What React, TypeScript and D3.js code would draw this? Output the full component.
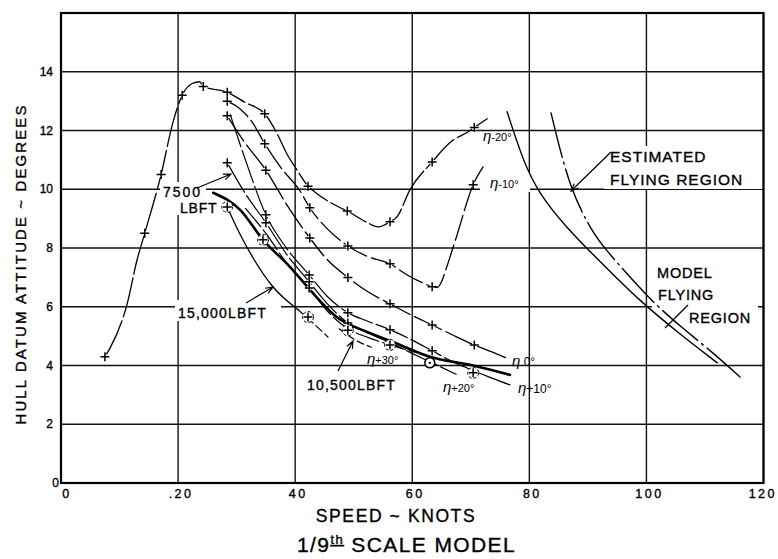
import React from 'react';
import * as d3 from 'd3';

const W = 778;
const H = 559;

// axes
const xGrid = [0, 20, 40, 60, 80, 100, 120];
const xTickLabels = ['0', '.20', '40', '60', '80', '100', '120'];
const yGrid = [0, 2, 4, 6, 8, 10, 12, 14, 16];
const yTickValues = [0, 2, 4, 6, 8, 10, 12, 14];
const yTickLabels = ['0', '2', '4', '6', '8', '10', '12', '14'];

// eta -20 deg (incl. low-speed hump)
const etaM20Speed = [7.5, 8.4, 11.3, 13.0, 14.3, 17.1, 19.1, 20.7, 22.4, 23.7, 24.3, 28.4, 31.5, 34.8, 36.9, 38.6, 40.3, 42.2, 43.4, 47.7, 48.9, 52, 54.2, 56.2, 57.4, 59.6, 63.4, 66.5, 69.9, 70.6, 72.8];
const etaM20Att = [4.3, 4.6, 6.1, 7.6, 8.5, 10.5, 12.26, 13.2, 13.6, 13.66, 13.5, 13.3, 12.95, 12.57, 11.9, 11.2, 10.66, 10.1, 9.9, 9.37, 9.26, 8.9, 8.72, 8.89, 9.06, 9.98, 10.93, 11.6, 12.0, 12.1, 12.4];
const etaM20MarkSpeed = [7.5, 14.3, 17.1, 20.7, 24.3, 28.4, 34.8, 42.2, 48.9, 56.2, 63.4, 70.6];
const etaM20MarkAtt = [4.3, 8.5, 10.5, 13.2, 13.5, 13.3, 12.57, 10.1, 9.26, 8.89, 10.93, 12.1];

// eta -10 deg
const etaM10Speed = [28.4, 30.5, 32.6, 34.8, 37.5, 40.8, 42.5, 45.5, 49.0, 52.5, 56.2, 59, 61.8, 63.4, 64.3, 65.0, 65.8, 67.5, 70.4, 72.1];
const etaM10Att = [13.0, 12.75, 12.3, 11.55, 10.75, 9.95, 9.37, 8.65, 8.07, 7.7, 7.46, 7.1, 6.81, 6.68, 6.66, 6.85, 7.3, 8.35, 10.15, 10.76];
const etaM10MarkSpeed = [28.4, 34.8, 42.5, 49.0, 56.2, 63.4, 70.4];
const etaM10MarkAtt = [13.0, 11.55, 9.37, 8.07, 7.46, 6.68, 10.15];

// eta 0 deg
const eta0Speed = [28.4, 31, 35, 38.8, 42.5, 45.5, 49.0, 52.5, 56.2, 59.8, 63.4, 67, 70.6, 73.5, 76.5];
const eta0Att = [12.5, 11.7, 10.65, 9.4, 8.34, 7.6, 7.0, 6.5, 6.1, 5.72, 5.38, 5.03, 4.7, 4.47, 4.22];
const eta0MarkSpeed = [28.4, 35, 42.5, 49, 56.2, 63.4, 70.6];
const eta0MarkAtt = [12.5, 10.65, 8.34, 7.0, 6.1, 5.38, 4.7];

// eta +10 deg
const etaP10Speed = [28.9, 31.5, 35, 38.5, 42.4, 45.5, 49, 52.5, 56.2, 59.8, 63.4, 67, 70.5, 73.5, 76.7];
const etaP10Att = [12.55, 11.0, 9.13, 8.0, 7.08, 6.35, 5.8, 5.5, 5.22, 4.88, 4.5, 4.12, 3.82, 3.58, 3.34];
const etaP10MarkSpeed = [35, 42.4, 49, 56.2, 63.4];
const etaP10MarkAtt = [9.13, 7.08, 5.8, 5.22, 4.5];

// eta +20 deg
const etaP20Speed = [28.4, 31.5, 35, 38.5, 42.4, 45.5, 49, 52.5, 56.2, 59.8, 63.4, 67.5];
const etaP20Att = [10.9, 9.85, 8.86, 7.8, 6.85, 6.1, 5.45, 5.1, 4.78, 4.43, 4.09, 3.7];
const etaP20MarkSpeed = [28.4, 35, 42.4, 49];
const etaP20MarkAtt = [10.9, 8.86, 6.85, 5.45];

// eta +30 deg
const etaP30Speed = [31.5, 35, 38.5, 42.4, 45.5, 49, 52.5, 56.2, 60.5];
const etaP30Att = [9.35, 8.5, 7.5, 6.64, 5.85, 5.25, 4.95, 4.7, 4.45];
const etaP30MarkSpeed = [42.4];
const etaP30MarkAtt = [6.64];

// heavy line
const thickSpeed = [26.0, 30.6, 34.5, 39.1, 43.0, 47.1, 52.3, 56.7, 63.0, 70.4, 76.7];
const thickAtt = [9.88, 9.3, 8.28, 7.36, 6.47, 5.65, 5.14, 4.8, 4.3, 4.0, 3.68];

// 15,000 lb ft line
const lbft15000Speed = [28.4, 30.5, 33, 36.2, 40.5];
const lbft15000Att = [9.4, 8.5, 7.6, 6.68, 5.9];
const lbft15000TailSpeed = [40.5, 42.2, 45.6];
const lbft15000TailAtt = [5.9, 5.6, 4.97];

// 10,500 lb ft line
const lbft10500Speed = [47.5, 50, 53];
const lbft10500Att = [5.25, 4.9, 4.62];

// circled test points
const circledSpeed = [28.4, 34.5, 42.2, 49, 56.2, 70.4];
const circledAtt = [9.4, 8.28, 5.65, 5.2, 4.7, 3.75];
const ringSpeed = [63.0];
const ringAtt = [4.09];

// flying region boundaries
const modelFlyingSpeed = [76.2, 79.6, 83, 86.4, 90, 94.3, 98.9, 105.5, 112.1];
const modelFlyingAtt = [12.64, 10.56, 9.5, 8.7, 7.95, 7.1, 6.2, 5.1, 4.09];
const estFlyingSpeed = [83.7, 86.9, 90.9, 92.6, 100.6, 106, 111.4, 116.0];
const estFlyingAtt = [12.6, 9.98, 8.51, 8.04, 6.23, 5.3, 4.43, 3.61];

const FONT = "'Liberation Sans', Arial, sans-serif";

const x = d3.scaleLinear().domain([0, 120]).range([61, 763.5]);
const y = d3.scaleLinear().domain([0, 16]).range([483, 13]);

const zip = (a: number[], b: number[]) => a.map((v, i) => [v, b[i]] as [number, number]);
const lineGen = d3
  .line<[number, number]>()
  .x((d) => x(d[0]))
  .y((d) => y(d[1]))
  .curve(d3.curveMonotoneX);
const smoothGen = d3
  .line<[number, number]>()
  .x((d) => x(d[0]))
  .y((d) => y(d[1]))
  .curve(d3.curveBasis);

const curves = [
  { s: etaM20Speed, a: etaM20Att, dash: '40 4', w: 1.3, smooth: false },
  { s: etaM10Speed, a: etaM10Att, dash: '26 5', w: 1.3, smooth: false },
  { s: eta0Speed, a: eta0Att, dash: '30 5', w: 1.3, smooth: false },
  { s: etaP10Speed, a: etaP10Att, dash: '34 4', w: 1.2, smooth: false },
  { s: etaP20Speed, a: etaP20Att, dash: '34 4', w: 1.2, smooth: false },
  { s: etaP30Speed, a: etaP30Att, dash: '24 4', w: 1.2, smooth: false },
  { s: thickSpeed, a: thickAtt, dash: 'none', w: 2.6, smooth: false },
  { s: lbft15000Speed, a: lbft15000Att, dash: 'none', w: 1.3, smooth: false },
  { s: lbft15000TailSpeed, a: lbft15000TailAtt, dash: '8 4', w: 1.2, smooth: false },
  { s: lbft10500Speed, a: lbft10500Att, dash: '7 4', w: 1.2, smooth: false },
  { s: modelFlyingSpeed, a: modelFlyingAtt, dash: 'none', w: 1.4, smooth: true },
  { s: estFlyingSpeed, a: estFlyingAtt, dash: '46 5 2 5', w: 1.4, smooth: true },
];

const markers = [
  zip(etaM20MarkSpeed, etaM20MarkAtt),
  zip(etaM10MarkSpeed, etaM10MarkAtt),
  zip(eta0MarkSpeed, eta0MarkAtt),
  zip(etaP10MarkSpeed, etaP10MarkAtt),
  zip(etaP20MarkSpeed, etaP20MarkAtt),
  zip(etaP30MarkSpeed, etaP30MarkAtt),
].flat();

const circled = zip(circledSpeed, circledAtt);
const rings = zip(ringSpeed, ringAtt);

function arrow(x1: number, y1: number, x2: number, y2: number, size = 8) {
  const ang = Math.atan2(y2 - y1, x2 - x1);
  const a1 = ang - 0.38;
  const a2 = ang + 0.38;
  return `M${x1},${y1}L${x2},${y2}M${x2 - size * Math.cos(a1)},${y2 - size * Math.sin(a1)}L${x2},${y2}L${x2 - size * Math.cos(a2)},${y2 - size * Math.sin(a2)}`;
}

// label boxes that interrupt grid lines: [x, y, w, h]
const labelMasks = [
  [160, 182, 46, 33],
  [175, 300, 106, 21],
  [604, 146, 158, 43],
  [652, 264, 106, 63],
  [480, 172, 50, 20],
];

const Plus = ({ cx, cy }: { cx: number; cy: number }) => (
  <path d={`M${cx - 4.5},${cy}H${cx + 4.5}M${cx},${cy - 4.5}V${cy + 4.5}`} stroke="#000" strokeWidth={1.5} />
);

const T = { fill: '#000', stroke: '#000', strokeWidth: 0.35 };

export default function App() {
  return (
    <svg width={W} height={H} style={{ position: 'absolute', left: 0, top: 0, background: '#fff' }} fontFamily={FONT}>
      <rect x={0} y={0} width={W} height={H} fill="#fff" />
      {/* grid */}
      {xGrid.map((v) => (
        <line key={'gx' + v} x1={x(v)} x2={x(v)} y1={y(16)} y2={y(0)} stroke="#111" strokeWidth={1.4} />
      ))}
      {yGrid.map((v) => (
        <line key={'gy' + v} x1={x(0)} x2={x(120)} y1={y(v)} y2={y(v)} stroke="#111" strokeWidth={1.4} />
      ))}
      <rect x={x(0)} y={y(16)} width={x(120) - x(0)} height={y(0) - y(16)} fill="none" stroke="#000" strokeWidth={2.2} />
      {labelMasks.map((m, i) => (
        <rect key={'m' + i} x={m[0]} y={m[1]} width={m[2]} height={m[3]} fill="#fff" />
      ))}

      {/* tick labels */}
      {yTickValues.map((v, i) => (
        <text key={'yt' + v} x={v === 0 ? 59 : 53} y={y(v) + 4} fontSize={12} textAnchor="end" {...T}>
          {yTickLabels[i]}
        </text>
      ))}
      {xGrid.map((v, i) => (
        <text
          key={'xt' + v}
          x={i === 0 ? x(v) + 6 : i === xGrid.length - 1 ? W - 1 : x(v) + 3}
          y={498}
          fontSize={12.5}
          letterSpacing={2.5}
          textAnchor={i === xGrid.length - 1 ? 'end' : 'middle'}
          {...T}
        >
          {xTickLabels[i]}
        </text>
      ))}

      {/* axis titles */}
      <text transform="translate(26,264) rotate(-90)" fontSize={15} letterSpacing={2.1} textAnchor="middle" {...T}>
        HULL DATUM ATTITUDE ~ DEGREES
      </text>
      <text x={396} y={522} fontSize={17.5} letterSpacing={1.6} textAnchor="middle" {...T}>
        SPEED ~ KNOTS
      </text>
      <text x={297} y={552} fontSize={21} letterSpacing={1.4} {...T}>
        1/9
        <tspan dy={-8} fontSize={13} textDecoration="underline">th</tspan>
        <tspan dy={8}> SCALE  MODEL</tspan>
      </text>

      {/* curves */}
      {curves.map((c, i) => (
        <path
          key={'c' + i}
          d={(c.smooth ? smoothGen : lineGen)(zip(c.s, c.a)) || ''}
          fill="none"
          stroke="#000"
          strokeWidth={c.w}
          strokeDasharray={c.dash === 'none' ? undefined : c.dash}
          strokeLinecap="round"
        />
      ))}

      {/* marker halos and markers */}
      {markers.map((p, i) => (
        <circle key={'h' + i} cx={x(p[0])} cy={y(p[1])} r={2.6} fill="#fff" />
      ))}
      {markers.map((p, i) => (
        <Plus key={'p' + i} cx={x(p[0])} cy={y(p[1])} />
      ))}
      {circled.map((p, i) => (
        <g key={'cp' + i}>
          <circle cx={x(p[0])} cy={y(p[1])} r={5.5} fill="#fff" stroke="#000" strokeWidth={1} strokeDasharray="3 2" />
          <Plus cx={x(p[0])} cy={y(p[1])} />
        </g>
      ))}
      {rings.map((p, i) => (
        <g key={'r' + i}>
          <circle cx={x(p[0])} cy={y(p[1])} r={5} fill="#fff" stroke="#000" strokeWidth={1.5} />
          <circle cx={x(p[0])} cy={y(p[1])} r={1.2} fill="#000" />
        </g>
      ))}

      {/* annotations */}
      <g stroke="#000" strokeWidth={1.2} fill="none">
        <path d={arrow(197, 188, 231, 174)} />
        <path d={arrow(246, 303, 273, 287)} />
        <path d={arrow(338, 371, 353, 341)} />
        <path d={arrow(611, 152, 571, 191)} />
        <path d="M665,328L688,305" />
      </g>
      <g {...T}>
        <text x={163} y={197} fontSize={14} letterSpacing={2}>7500</text>
        <text x={180} y={213} fontSize={14} letterSpacing={0.8}>LBFT</text>
        <text x={178} y={318} fontSize={14} letterSpacing={1.2}>15,000LBFT</text>
        <text x={307} y={390} fontSize={14} letterSpacing={1.2}>10,500LBFT</text>
        <text x={610} y={162} fontSize={15.5} letterSpacing={1}>ESTIMATED</text>
        <text x={610} y={185} fontSize={15.5} letterSpacing={1}>FLYING REGION</text>
        <text x={657} y={278} fontSize={14.5} letterSpacing={0.8}>MODEL</text>
        <text x={658} y={300} fontSize={14.5} letterSpacing={0.8}>FLYING</text>
        <text x={689} y={323} fontSize={14.5} letterSpacing={0.8}>REGION</text>
      </g>
      <g fill="#000">
        <text x={483} y={141}>
          <tspan fontSize={15} fontStyle="italic">η</tspan>
          <tspan fontSize={11}>-20°</tspan>
        </text>
        <text x={490} y={188}>
          <tspan fontSize={15} fontStyle="italic">η</tspan>
          <tspan fontSize={11}>-10°</tspan>
        </text>
        <text x={512} y={366}>
          <tspan fontSize={15} fontStyle="italic">η</tspan>
          <tspan fontSize={12}> 0°</tspan>
        </text>
        <text x={518} y={393}>
          <tspan fontSize={15} fontStyle="italic">η</tspan>
          <tspan fontSize={12}>+10°</tspan>
        </text>
        <text x={443} y={392}>
          <tspan fontSize={15} fontStyle="italic">η</tspan>
          <tspan fontSize={11}>+20°</tspan>
        </text>
        <text x={367} y={364}>
          <tspan fontSize={15} fontStyle="italic">η</tspan>
          <tspan fontSize={11}>+30°</tspan>
        </text>
      </g>
    </svg>
  );
}
